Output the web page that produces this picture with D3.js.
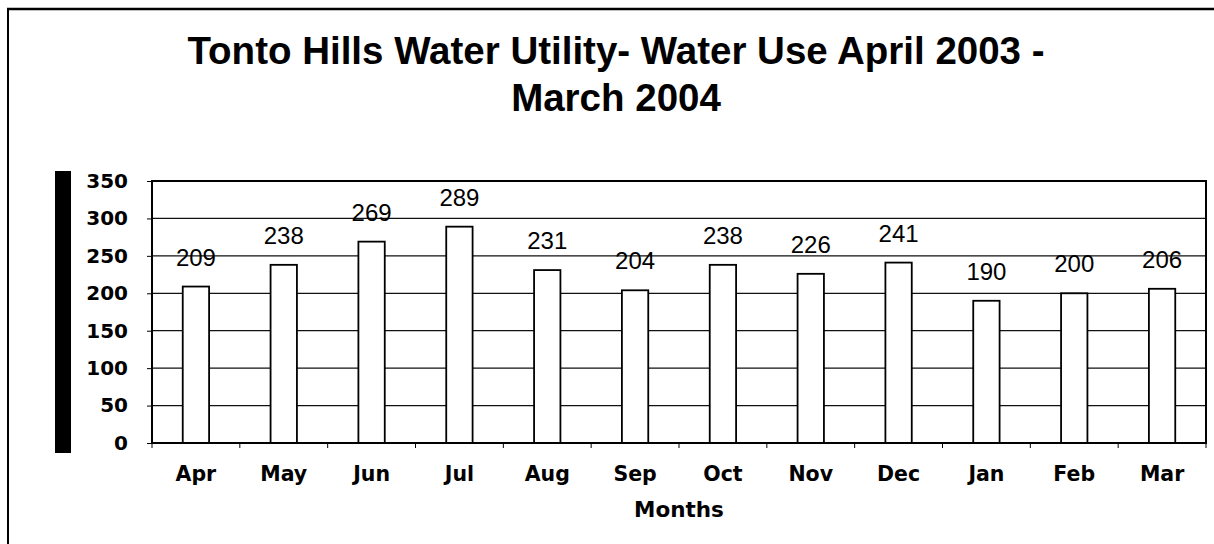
<!DOCTYPE html>
<html>
<head>
<meta charset="utf-8">
<script src="https://cdn.jsdelivr.net/npm/d3@7"></script>
<style>
  body { margin: 0; background: #fff; }
  svg { display: block; }
</style>
</head>
<body>
<svg></svg>
<script>
var months = ["Apr", "May", "Jun", "Jul", "Aug", "Sep", "Oct", "Nov", "Dec", "Jan", "Feb", "Mar"];
var waterUse = [209, 238, 269, 289, 231, 204, 238, 226, 241, 190, 200, 206];
var yTicks = [0, 50, 100, 150, 200, 250, 300, 350];
var titleLines = ["Tonto Hills Water Utility- Water Use April 2003 -", "March 2004"];
var xTitle = "Months";

var width = 1214,
    height = 544;

var svg = d3.select("svg")
    .attr("width", width)
    .attr("height", height);

// outer frame (only top and left edges show in the scan)
svg.append("line")
    .attr("x1", 7).attr("y1", 9).attr("x2", width).attr("y2", 9)
    .attr("stroke", "#000").attr("stroke-width", 2.5);
svg.append("line")
    .attr("x1", 8).attr("y1", 8).attr("x2", 8).attr("y2", height)
    .attr("stroke", "#000").attr("stroke-width", 2);

// title
svg.append("g").selectAll("text")
    .data(titleLines)
  .enter().append("text")
    .attr("x", 616)
    .attr("y", function(d, i) { return 64 + i * 47; })
    .attr("text-anchor", "middle")
    .style("font-family", "'Liberation Sans', Arial, sans-serif")
    .style("font-weight", "bold")
    .style("font-size", "38.5px")
    .text(function(d) { return d; });

var plot = { left: 152, right: 1206, top: 181, bottom: 443 };

var x = d3.scaleBand()
    .domain(months)
    .range([plot.left, plot.right])
    .paddingInner(0.7)
    .paddingOuter(0.35);

var y = d3.scaleLinear()
    .domain([0, 350])
    .range([plot.bottom, plot.top]);

// black bar left of the axis
svg.append("rect")
    .attr("x", 55).attr("y", 171)
    .attr("width", 16).attr("height", 282)
    .attr("fill", "#000");

// gridlines
svg.append("g").selectAll("line")
    .data(yTicks.slice(1, -1))
  .enter().append("line")
    .attr("x1", plot.left).attr("x2", plot.right)
    .attr("y1", function(d) { return y(d); })
    .attr("y2", function(d) { return y(d); })
    .attr("stroke", "#111").attr("stroke-width", 1.2);

// bars
svg.append("g").selectAll("rect")
    .data(waterUse)
  .enter().append("rect")
    .attr("x", function(d, i) { return x(months[i]); })
    .attr("y", function(d) { return y(d); })
    .attr("width", x.bandwidth())
    .attr("height", function(d) { return plot.bottom - y(d); })
    .attr("fill", "#fff")
    .attr("stroke", "#000")
    .attr("stroke-width", 1.8);

// value labels
svg.append("g").selectAll("text")
    .data(waterUse)
  .enter().append("text")
    .attr("x", function(d, i) { return x(months[i]) + x.bandwidth() / 2; })
    .attr("y", function(d) { return y(d) - 21; })
    .attr("text-anchor", "middle")
    .style("font-family", "'Liberation Sans', Arial, sans-serif")
    .style("font-size", "24px")
    .text(function(d) { return d; });

// plot frame
svg.append("rect")
    .attr("x", plot.left).attr("y", plot.top)
    .attr("width", plot.right - plot.left)
    .attr("height", plot.bottom - plot.top)
    .attr("fill", "none")
    .attr("stroke", "#000")
    .attr("stroke-width", 2);

// y axis
var yAxis = svg.append("g")
    .attr("transform", "translate(" + plot.left + ",0)")
    .call(d3.axisLeft(y).tickValues(yTicks).tickSize(5).tickPadding(19));
yAxis.select(".domain").remove();
yAxis.selectAll("text")
    .style("font-family", "'DejaVu Sans', Verdana, sans-serif")
    .style("font-weight", "bold")
    .style("font-size", "20px")
    .attr("fill", "#000");

// x ticks at category boundaries
var bounds = d3.range(months.length + 1).map(function(i) { return plot.left + i * x.step(); });
svg.append("g").selectAll("line")
    .data(bounds)
  .enter().append("line")
    .attr("x1", function(d) { return d; }).attr("x2", function(d) { return d; })
    .attr("y1", plot.bottom).attr("y2", plot.bottom + 5)
    .attr("stroke", "#000").attr("stroke-width", 1);

// x labels
svg.append("g").selectAll("text")
    .data(months)
  .enter().append("text")
    .attr("x", function(d) { return x(d) + x.bandwidth() / 2; })
    .attr("y", 481)
    .attr("text-anchor", "middle")
    .style("font-family", "'DejaVu Sans', Verdana, sans-serif")
    .style("font-weight", "bold")
    .style("font-size", "20.5px")
    .text(function(d) { return d; });

svg.append("text")
    .attr("x", (plot.left + plot.right) / 2)
    .attr("y", 517)
    .attr("text-anchor", "middle")
    .style("font-family", "'DejaVu Sans', Verdana, sans-serif")
    .style("font-weight", "bold")
    .style("font-size", "21.5px")
    .text(xTitle);
</script>
</body>
</html>
